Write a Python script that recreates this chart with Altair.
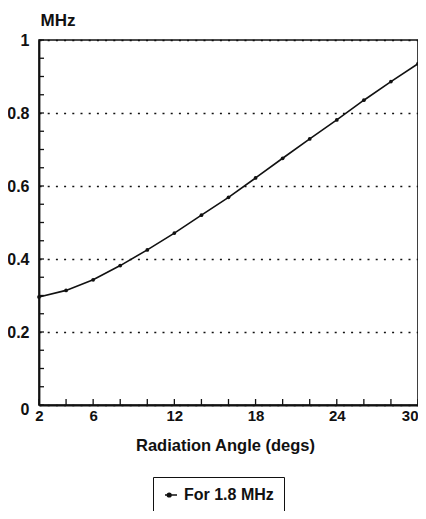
import altair as alt
import pandas as pd

# Data
angles = [2, 4, 6, 8, 10, 12, 14, 16, 18, 20, 22, 24, 26, 28, 30]
mhz = [0.296, 0.314, 0.343, 0.382, 0.425, 0.471, 0.520, 0.569, 0.622,
       0.676, 0.729, 0.781, 0.835, 0.886, 0.935]
series_name = "For 1.8 MHz"
x_label_values = [2, 6, 12, 18, 24, 30]
x_tick_values = list(range(2, 31, 2))
y_label_values = [0, 0.2, 0.4, 0.6, 0.8, 1]
y_tick_values = [round(i * 0.05, 2) for i in range(0, 21)]

W, H = 379, 365
FONT = "Liberation Sans"
INK = "#111111"

df = pd.DataFrame({"angle": angles, "mhz": mhz, "series": series_name})
xt = pd.DataFrame({"t": x_tick_values})
yt = pd.DataFrame({"t": y_tick_values})

xscale = alt.Scale(domain=[2, 30], nice=False, zero=False)
yscale = alt.Scale(domain=[0, 1], nice=False)

legend_symbol = ("M-1,0L1,0"
                 "M-0.6,0a0.3,0.3 0 1,0 0.6,0a0.3,0.3 0 1,0 -0.6,0")

line = alt.Chart(df).mark_line(
    strokeWidth=1.6,
    point=alt.OverlayMarkDef(filled=True, size=14, color=INK),
).encode(
    x=alt.X("angle:Q", scale=xscale,
            axis=alt.Axis(values=x_label_values, title="Radiation Angle (degs)",
                          format="d", ticks=False, grid=False,
                          labelFlush=False,
                          labelAlign=alt.ConditionalAxisLabelAlign(
                              condition={"test": "datum.value == 30",
                                         "value": "right"},
                              value="center"),
                          labelFontSize=15,
                          labelPadding=3, titlePadding=14,
                          titleX=186, titleFontSize=16.5)),
    y=alt.Y("mhz:Q", scale=yscale,
            axis=alt.Axis(values=y_label_values, title="MHz", format="~g",
                          ticks=False, labelPadding=10,
                          labelOffset=alt.ConditionalAxisNumber(
                              condition={"test": "datum.value == 0",
                                         "value": 4},
                              value=0),
                          titleAngle=0, titleAlign="left", titleX=1, titleY=-15,
                          titleBaseline="alphabetic", titleFontSize=17,
                          grid=True, gridDash=[2, 6.2], gridColor=INK,
                          gridWidth=1.7)),
    color=alt.Color("series:N", scale=alt.Scale(range=[INK]),
                    legend=alt.Legend(title=None, orient="none",
                                      legendX=114, legendY=437,
                                      symbolType=legend_symbol, symbolSize=144,
                                      symbolStrokeWidth=1.6,
                                      symbolStrokeColor=INK,
                                      symbolFillColor=INK,
                                      symbolOffset=0, labelOffset=5,
                                      labelFontSize=16, labelFont=FONT,
                                      labelFontWeight="bold",
                                      labelColor=INK, padding=10,
                                      strokeColor=INK)),
)

xticks = alt.Chart(xt).mark_rule(color=INK, strokeWidth=1.3).encode(
    x=alt.X("t:Q", scale=xscale),
    y=alt.value(H), y2=alt.value(H - 6),
)
yticks = alt.Chart(yt).mark_rule(color=INK, strokeWidth=1.3).encode(
    y=alt.Y("t:Q", scale=yscale),
    x=alt.value(0), x2=alt.value(5),
)

chart = alt.layer(line, xticks, yticks).properties(
    width=W, height=H,
    autosize=alt.AutoSizeParams(type="none"),
    padding={"left": 31, "top": 32, "right": 0, "bottom": 106},
).configure_view(
    stroke=INK, strokeWidth=1.6,
).configure_axis(
    domainColor=INK, domainWidth=1.8,
    labelFont=FONT, labelFontSize=16, labelFontWeight="bold", labelColor=INK,
    titleFont=FONT, titleFontSize=16, titleFontWeight="bold", titleColor=INK,
)

chart.save("out.html", embed_options={"renderer": "svg", "actions": False})
